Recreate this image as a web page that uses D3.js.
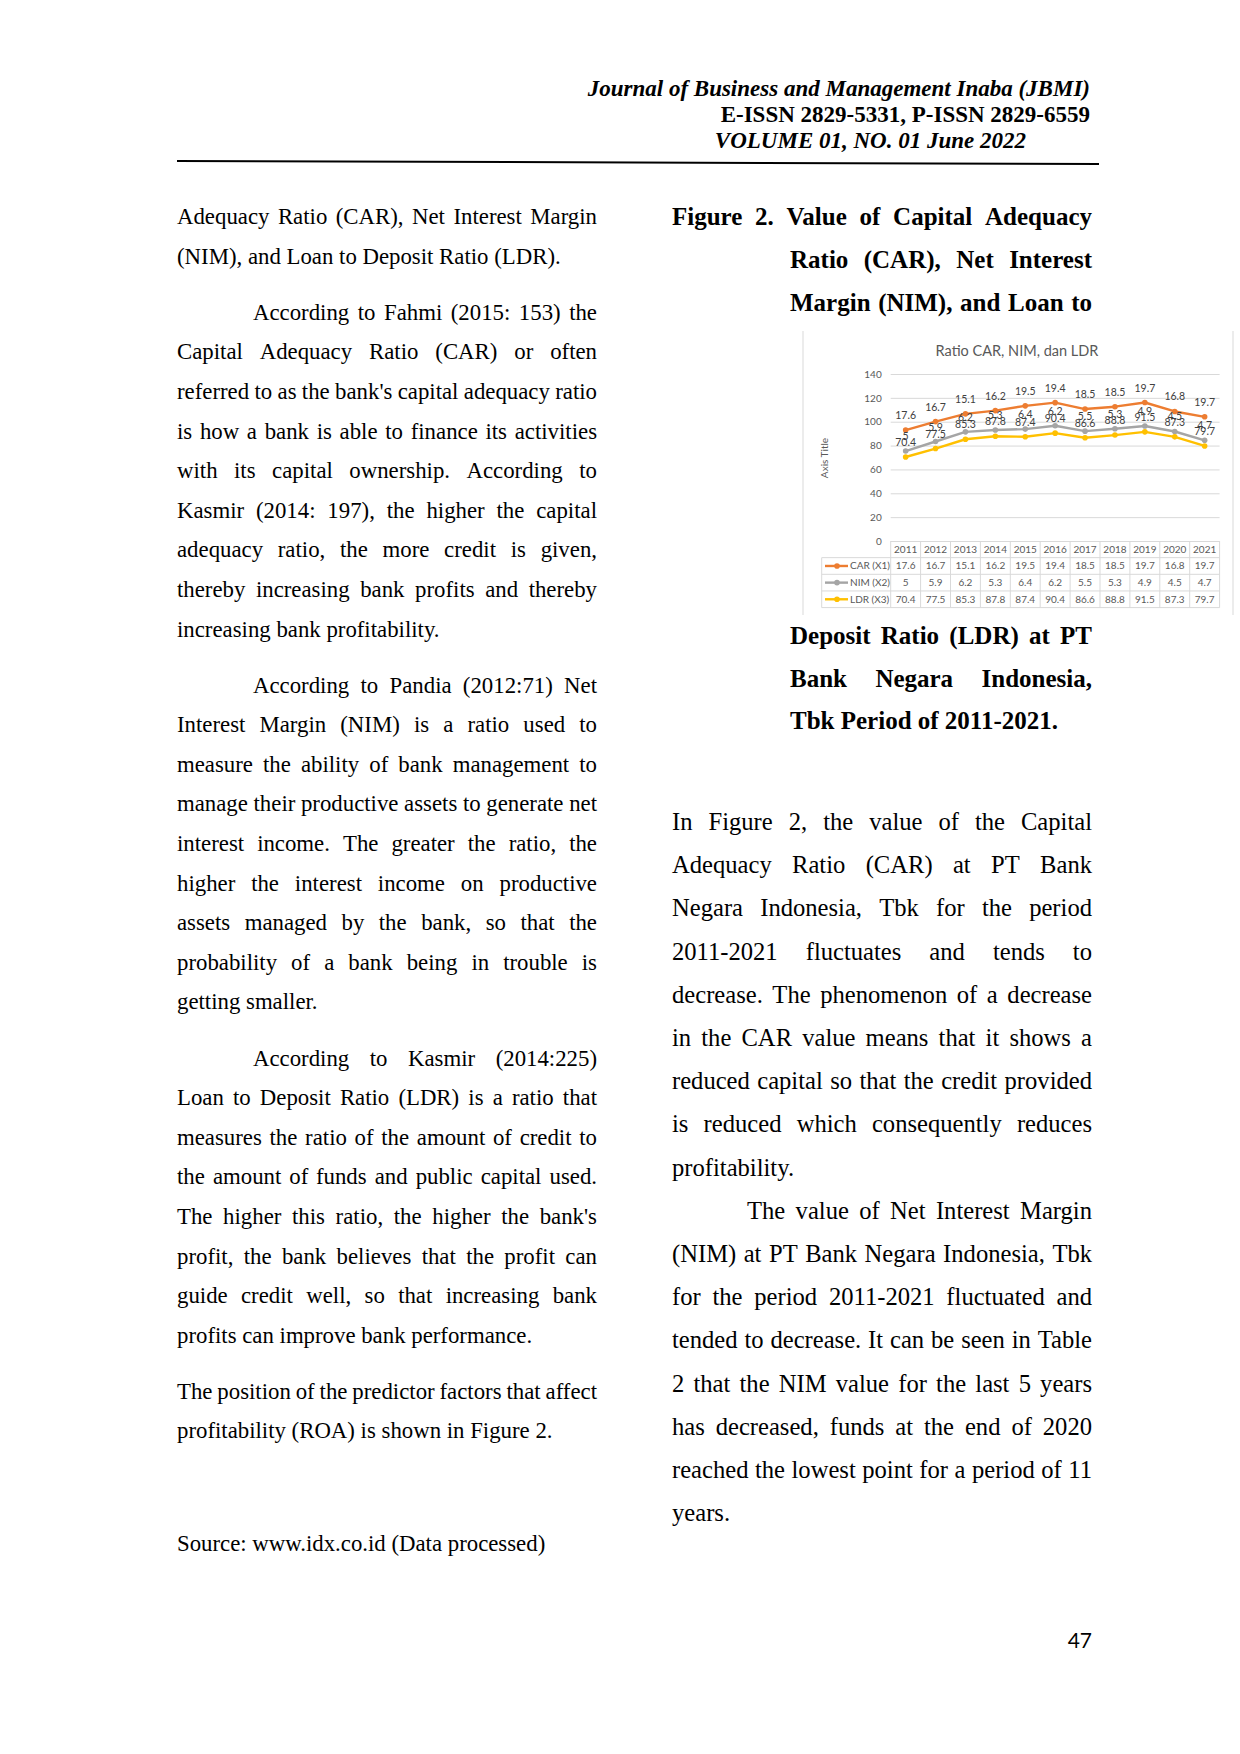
<!DOCTYPE html>
<html>
<head>
<meta charset="utf-8">
<script src="https://cdn.jsdelivr.net/npm/d3@7"></script>
<style>
  body { margin: 0; background: #fff; }
  svg { display: block; }
</style>
</head>
<body>
<script>
// chart data
const years = ['2011','2012','2013','2014','2015','2016','2017','2018','2019','2020','2021'];
const car = [17.6, 16.7, 15.1, 16.2, 19.5, 19.4, 18.5, 18.5, 19.7, 16.8, 19.7];
const nim = [5, 5.9, 6.2, 5.3, 6.4, 6.2, 5.5, 5.3, 4.9, 4.5, 4.7];
const ldr = [70.4, 77.5, 85.3, 87.8, 87.4, 90.4, 86.6, 88.8, 91.5, 87.3, 79.7];
const yTicks = [0, 20, 40, 60, 80, 100, 120, 140];
const seriesNames = ['CAR (X1)', 'NIM (X2)', 'LDR (X3)'];
const seriesColors = ['#ED7D31', '#A5A5A5', '#FFC000'];

// page text, one entry per printed line
const leftParas = [
  { indent: false, lines: [
    'Adequacy Ratio (CAR), Net Interest Margin',
    '(NIM), and Loan to Deposit Ratio (LDR).']},
  { indent: true, lines: [
    'According to Fahmi (2015: 153) the',
    'Capital Adequacy Ratio (CAR) or often',
    "referred to as the bank's capital adequacy ratio",
    'is how a bank is able to finance its activities',
    'with its capital ownership. According to',
    'Kasmir (2014: 197), the higher the capital',
    'adequacy ratio, the more credit is given,',
    'thereby increasing bank profits and thereby',
    'increasing bank profitability.']},
  { indent: true, lines: [
    'According to Pandia (2012:71) Net',
    'Interest Margin (NIM) is a ratio used to',
    'measure the ability of bank management to',
    'manage their productive assets to generate net',
    'interest income. The greater the ratio, the',
    'higher the interest income on productive',
    'assets managed by the bank, so that the',
    'probability of a bank being in trouble is',
    'getting smaller.']},
  { indent: true, lines: [
    'According to Kasmir (2014:225)',
    'Loan to Deposit Ratio (LDR) is a ratio that',
    'measures the ratio of the amount of credit to',
    'the amount of funds and public capital used.',
    "The higher this ratio, the higher the bank's",
    'profit, the bank believes that the profit can',
    'guide credit well, so that increasing bank',
    'profits can improve bank performance.']},
  { indent: false, lines: [
    'The position of the predictor factors that affect',
    'profitability (ROA) is shown in Figure 2.']}
];
const captionTop = [
  'Figure 2. Value of Capital Adequacy',
  'Ratio (CAR), Net Interest',
  'Margin (NIM), and Loan to'];
const captionBottom = [
  'Deposit Ratio (LDR) at PT',
  'Bank Negara Indonesia,',
  'Tbk Period of 2011-2021.'];
const rightParas = [
  { indent: false, lines: [
    'In Figure 2, the value of the Capital',
    'Adequacy Ratio (CAR) at PT Bank',
    'Negara Indonesia, Tbk for the period',
    '2011-2021 fluctuates and tends to',
    'decrease. The phenomenon of a decrease',
    'in the CAR value means that it shows a',
    'reduced capital so that the credit provided',
    'is reduced which consequently reduces',
    'profitability.']},
  { indent: true, lines: [
    'The value of Net Interest Margin',
    '(NIM) at PT Bank Negara Indonesia, Tbk',
    'for the period 2011-2021 fluctuated and',
    'tended to decrease. It can be seen in Table',
    '2 that the NIM value for the last 5 years',
    'has decreased, funds at the end of 2020',
    'reached the lowest point for a period of 11',
    'years.']}
];

const W = 1240, H = 1754;
const svg = d3.select('body').append('svg')
  .attr('width', W).attr('height', H)
  .attr('font-family', '"Liberation Serif", "Times New Roman", serif');

// one printed line; justified lines spread their words from x0 to x1
function writeLine(g, str, x0, x1, y, justify) {
  const t = g.append('text').attr('y', y);
  if (!justify) { t.attr('x', x0).text(str); return; }
  const words = str.split(' ');
  const spans = words.map(w => t.append('tspan').text(w));
  const widths = spans.map(s => s.node().getComputedTextLength());
  const sum = d3.sum(widths);
  const gap = (x1 - x0 - sum) / (words.length - 1);
  if (gap < 3) {
    t.selectAll('tspan').remove();
    t.attr('x', x0).text(str)
      .attr('textLength', x1 - x0).attr('lengthAdjust', 'spacingAndGlyphs');
    return;
  }
  let x = x0;
  spans.forEach((s, i) => { s.attr('x', x); x += widths[i] + gap; });
}

// header
const head = svg.append('g').attr('font-size', 23).attr('font-weight', 'bold').attr('text-anchor', 'end');
head.append('text').attr('x', 1090).attr('y', 96).attr('font-style', 'italic')
  .text('Journal of Business and Management Inaba (JBMI)');
head.append('text').attr('x', 1090).attr('y', 122).text('E-ISSN 2829-5331, P-ISSN 2829-6559');
head.append('text').attr('x', 1026).attr('y', 148).attr('font-style', 'italic')
  .text('VOLUME 01, NO. 01 June 2022');
svg.append('line').attr('x1', 177).attr('y1', 161).attr('x2', 1099).attr('y2', 164)
  .attr('stroke', '#000').attr('stroke-width', 2);

// left column
const left = svg.append('g').attr('font-size', 22.8).attr('fill', '#000');
let yy = 224;
leftParas.forEach((p, pi) => {
  if (pi > 0) yy += 16.5;
  p.lines.forEach((ln, i) => {
    const last = i === p.lines.length - 1;
    writeLine(left, ln, (p.indent && i === 0) ? 253 : 177, 597, yy, !last);
    yy += 39.6;
  });
});
writeLine(left, 'Source: www.idx.co.id (Data processed)', 177, 597, 1551, false);

// caption
const cap = svg.append('g').attr('font-size', 25).attr('font-weight', 'bold');
captionTop.forEach((ln, i) => writeLine(cap, ln, i === 0 ? 672 : 790, 1092, 225 + i * 43, true));
captionBottom.forEach((ln, i) => writeLine(cap, ln, 790, 1092, 644 + i * 42.5, i < 2));

// right column body
const right = svg.append('g').attr('font-size', 24.6);
let ry = 830;
rightParas.forEach(p => {
  p.lines.forEach((ln, i) => {
    const last = i === p.lines.length - 1;
    writeLine(right, ln, (p.indent && i === 0) ? 747 : 672, 1092, ry, !last);
    ry += 43.2;
  });
});

// page number
svg.append('text').attr('x', 1092).attr('y', 1648).attr('text-anchor', 'end')
  .attr('font-family', 'Lato, "Noto Sans", sans-serif').attr('font-size', 21).text('47');

// ---- the chart ----
const chart = svg.append('g').attr('font-family', 'Lato, "Open Sans", sans-serif');
const grey = '#D9D9D9';
chart.append('line').attr('x1', 803).attr('x2', 803).attr('y1', 331).attr('y2', 615).attr('stroke', grey);
chart.append('line').attr('x1', 1233).attr('x2', 1233).attr('y1', 331).attr('y2', 615).attr('stroke', grey);

const plotL = 890.7, plotR = 1219.6;
const x = d3.scalePoint().domain(years).range([plotL, plotR]).padding(0.5);
const xb = d3.scaleBand().domain(years).range([plotL, plotR]);
const y = d3.scaleLinear().domain([0, 140]).range([541, 374]);

chart.append('text').attr('x', 1017).attr('y', 356).attr('text-anchor', 'middle')
  .attr('font-size', 14.5).attr('fill', '#595959').text('Ratio CAR, NIM, dan LDR');

const yAxis = chart.append('g').attr('transform', `translate(${plotL},0)`)
  .call(d3.axisLeft(y).tickValues(yTicks).tickSize(-(plotR - plotL)).tickPadding(9));
yAxis.select('.domain').remove();
yAxis.selectAll('line').attr('stroke', grey);
yAxis.selectAll('text').attr('fill', '#595959').attr('font-size', 10)
  .attr('font-family', 'Lato, "Open Sans", sans-serif');

chart.append('text').attr('transform', 'translate(828,458) rotate(-90)')
  .attr('text-anchor', 'middle').attr('font-size', 10).attr('fill', '#595959').text('Axis Title');

// stacked series
const rows = years.map((yr, i) => ({ year: yr, LDR: ldr[i], NIM: nim[i], CAR: car[i] }));
const stacked = d3.stack().keys(['LDR', 'NIM', 'CAR'])(rows);
const keyIdx = { CAR: 0, NIM: 1, LDR: 2 };
const line = d3.line().x(d => x(d.data.year)).y(d => y(d[1]));

stacked.slice().reverse().forEach(s => {
  const c = seriesColors[keyIdx[s.key]];
  chart.append('path').datum(s).attr('d', line)
    .attr('fill', 'none').attr('stroke', c).attr('stroke-width', 2.4).attr('stroke-linejoin', 'round');
  chart.selectAll(null).data(s).enter().append('circle')
    .attr('cx', d => x(d.data.year)).attr('cy', d => y(d[1])).attr('r', 2.8).attr('fill', c);
});
stacked.forEach(s => {
  chart.selectAll(null).data(s).enter().append('text')
    .attr('x', d => x(d.data.year)).attr('y', d => y(d[1]) - 11)
    .attr('text-anchor', 'middle').attr('font-size', 10.5).attr('fill', '#404040')
    .text(d => d.data[s.key]);
});

// data table under the plot
const rowTop = 541, rowH = 16.65;
const tableL = 821.7;
const tbl = chart.append('g').attr('stroke', grey).attr('stroke-width', 1);
[1, 2, 3, 4].forEach(r => tbl.append('line')
  .attr('x1', tableL).attr('x2', plotR).attr('y1', rowTop + r * rowH).attr('y2', rowTop + r * rowH));
tbl.append('line').attr('x1', tableL).attr('x2', tableL).attr('y1', rowTop + rowH).attr('y2', rowTop + 4 * rowH);
years.concat(['end']).forEach((yr, i) => {
  const xx = i < years.length ? xb(yr) : plotR;
  tbl.append('line').attr('x1', xx).attr('x2', xx).attr('y1', rowTop).attr('y2', rowTop + 4 * rowH);
});

const cellText = chart.append('g').attr('font-size', 10).attr('fill', '#595959').attr('text-anchor', 'middle');
cellText.selectAll(null).data(years).enter().append('text')
  .attr('x', d => x(d)).attr('y', rowTop + rowH / 2 + 3.5).text(d => d);
[car, nim, ldr].forEach((vals, r) => {
  const cy = rowTop + (r + 1.5) * rowH;
  cellText.selectAll(null).data(vals).enter().append('text')
    .attr('x', (d, i) => x(years[i])).attr('y', cy + 3.5).text(d => d);
  chart.append('line').attr('x1', 825).attr('x2', 848).attr('y1', cy).attr('y2', cy)
    .attr('stroke', seriesColors[r]).attr('stroke-width', 2.4);
  chart.append('circle').attr('cx', 837).attr('cy', cy).attr('r', 2.8).attr('fill', seriesColors[r]);
  chart.append('text').attr('x', 850).attr('y', cy + 3.5).attr('font-size', 10)
    .attr('fill', '#595959').text(seriesNames[r]);
});
</script>
</body>
</html>
